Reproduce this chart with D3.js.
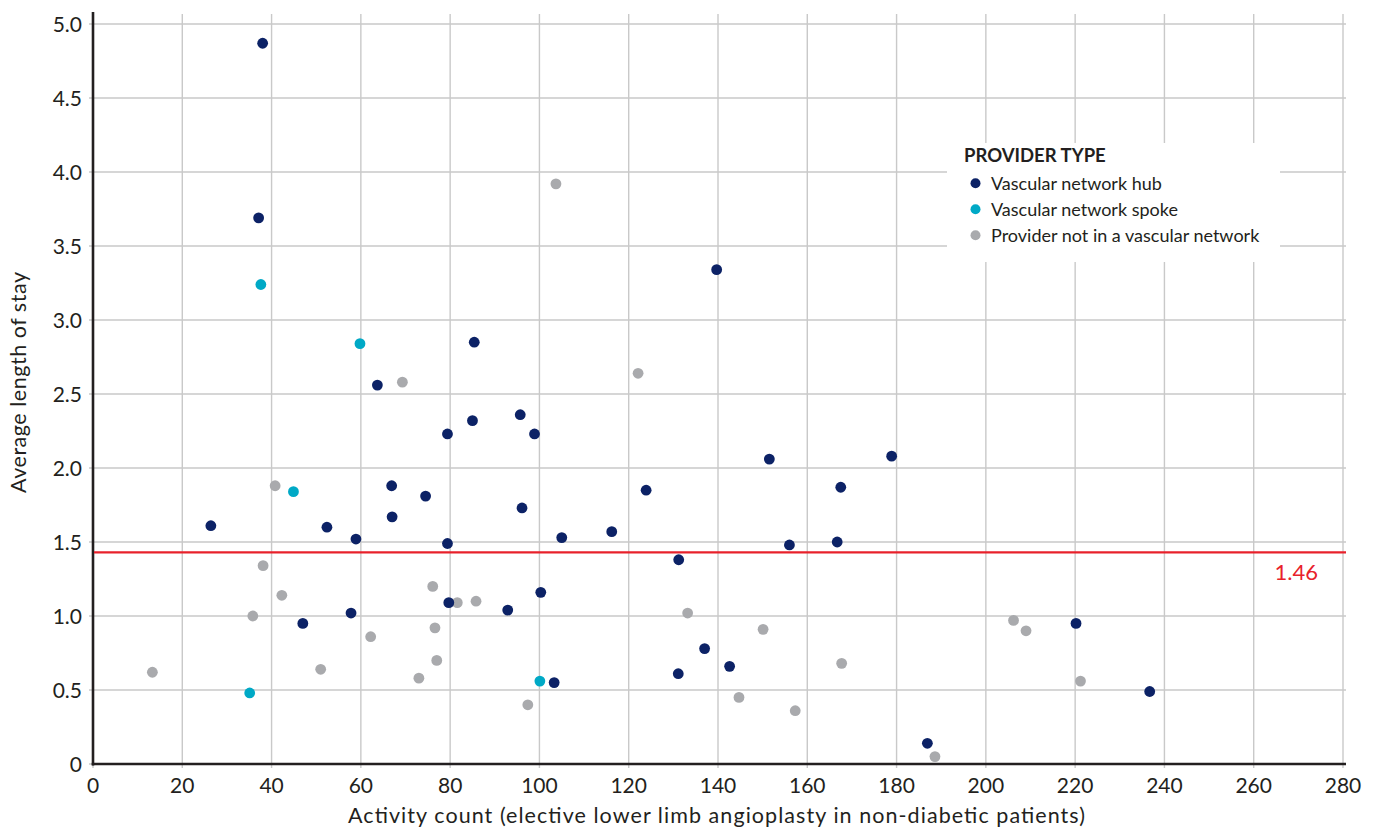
<!DOCTYPE html>
<html><head><meta charset="utf-8">
<script src="https://cdn.jsdelivr.net/npm/d3@7"></script>
<style>
html,body{margin:0;padding:0;background:#fff;}
svg{display:block;font-family:Lato,"Open Sans",sans-serif;}
</style></head>
<body><svg id="c" width="1382" height="830"></svg>
<script>
// ---- data ----
const hubX = [38.0,37.1,26.4,47.0,52.4,58.9,57.8,63.7,66.9,67.0,74.5,85.4,79.4,85.0,79.4,79.7,95.7,98.9,96.1,105.0,100.3,92.9,103.3,116.2,123.9,139.7,131.2,131.1,137.0,142.6,151.5,156.0,166.7,167.5,178.9,186.9,220.2,236.7];
const hubY = [4.87,3.69,1.61,0.95,1.60,1.52,1.02,2.56,1.88,1.67,1.81,2.85,2.23,2.32,1.49,1.09,2.36,2.23,1.73,1.53,1.16,1.04,0.55,1.57,1.85,3.34,1.38,0.61,0.78,0.66,2.06,1.48,1.50,1.87,2.08,0.14,0.95,0.49];
const spokeX = [37.6,59.8,44.9,35.1,100.1];
const spokeY = [3.24,2.84,1.84,0.48,0.56];
const otherX = [13.3,35.8,38.1,42.3,40.8,51.0,62.2,69.3,73.0,76.1,76.6,77.0,81.6,85.8,97.4,103.7,122.1,133.2,144.7,150.1,157.3,167.7,188.6,206.2,209.0,221.2];
const otherY = [0.62,1.00,1.34,1.14,1.88,0.64,0.86,2.58,0.58,1.20,0.92,0.70,1.09,1.10,0.40,3.92,2.64,1.02,0.45,0.91,0.36,0.68,0.05,0.97,0.90,0.56];
const seriesNames = ["Vascular network hub","Vascular network spoke","Provider not in a vascular network"];
const xTicks = [0,20,40,60,80,100,120,140,160,180,200,220,240,260,280];
const yTicks = [0,0.5,1.0,1.5,2.0,2.5,3.0,3.5,4.0,4.5,5.0];
const avgValue = 1.43;
const avgLabel = "1.46";
const legendTitle = "PROVIDER TYPE";
const xTitle = "Activity count (elective lower limb angioplasty in non-diabetic patients)";
const yTitle = "Average length of stay";

// ---- drawing ----
const colors = ["#0c2266","#00a9c6","#a9aaad"];
const svg = d3.select("#c");
const L=93, R=1343, T=24, B=764;
const x = d3.scaleLinear().domain([0,280]).range([L,R]);
const y = d3.scaleLinear().domain([0,5]).range([B,T]);

// grid
const g = svg.append("g");
g.selectAll("line.vx").data(xTicks).join("line")
  .attr("x1",d=>x(d)).attr("x2",d=>x(d)).attr("y1",14).attr("y2",B+4)
  .attr("stroke","#c9c9c9").attr("stroke-width",1.4);
g.selectAll("line.hy").data(yTicks).join("line")
  .attr("x1",L-4).attr("x2",R+3).attr("y1",d=>y(d)).attr("y2",d=>y(d))
  .attr("stroke","#c9c9c9").attr("stroke-width",1.4);

// axes lines
svg.append("line").attr("x1",L).attr("x2",L).attr("y1",12).attr("y2",B+1.5)
  .attr("stroke","#231f20").attr("stroke-width",2.6);
svg.append("line").attr("x1",L-1.3).attr("x2",R+3).attr("y1",B).attr("y2",B)
  .attr("stroke","#231f20").attr("stroke-width",2.6);

// tick labels
svg.selectAll("text.xt").data(xTicks).join("text")
  .attr("x",d=>x(d)).attr("y",793).attr("text-anchor","middle")
  .attr("font-size",21).attr("fill","#231f20").text(d=>d);
svg.selectAll("text.yt").data(yTicks).join("text")
  .attr("x",82).attr("y",d=>y(d)+7.5).attr("text-anchor","end")
  .attr("font-size",21).attr("fill","#231f20").text(d=>d===0?"0":d.toFixed(1));

// titles
svg.append("text").attr("x",716.5).attr("y",823).attr("text-anchor","middle")
  .attr("font-size",21.5).attr("fill","#231f20")
  .attr("textLength",737).attr("lengthAdjust","spacing").text(xTitle);
svg.append("text").attr("transform","translate(26,382.5) rotate(-90)").attr("text-anchor","middle")
  .attr("font-size",21.5).attr("fill","#231f20")
  .attr("textLength",221).attr("lengthAdjust","spacing").text(yTitle);

// average line
svg.append("line").attr("x1",L+1).attr("x2",R+3).attr("y1",y(avgValue)).attr("y2",y(avgValue))
  .attr("stroke","#e8212b").attr("stroke-width",2.4);
svg.append("text").attr("x",1318).attr("y",580).attr("text-anchor","end")
  .attr("font-size",22).attr("fill","#e8212b").text(avgLabel);

// points
const sets = [
  {xs:otherX, ys:otherY, c:colors[2]},
  {xs:hubX, ys:hubY, c:colors[0]},
  {xs:spokeX, ys:spokeY, c:colors[1]}
];
sets.forEach(s=>{
  svg.append("g").selectAll("circle").data(s.xs.map((v,i)=>[v,s.ys[i]])).join("circle")
    .attr("cx",d=>x(d[0])).attr("cy",d=>y(d[1])).attr("r",5.4).attr("fill",s.c);
});

// legend
const lg = svg.append("g");
lg.append("rect").attr("x",947).attr("y",143).attr("width",333).attr("height",119).attr("fill","#fff");
lg.append("text").attr("x",964).attr("y",162).attr("font-size",18.5).attr("font-weight","bold")
  .attr("fill","#231f20").text(legendTitle);
seriesNames.forEach((n,i)=>{
  lg.append("circle").attr("cx",975.5).attr("cy",183.3+26*i).attr("r",5).attr("fill",colors[i]);
  lg.append("text").attr("x",991).attr("y",189.5+26*i).attr("font-size",18).attr("fill","#231f20").text(n);
});
</script></body></html>
